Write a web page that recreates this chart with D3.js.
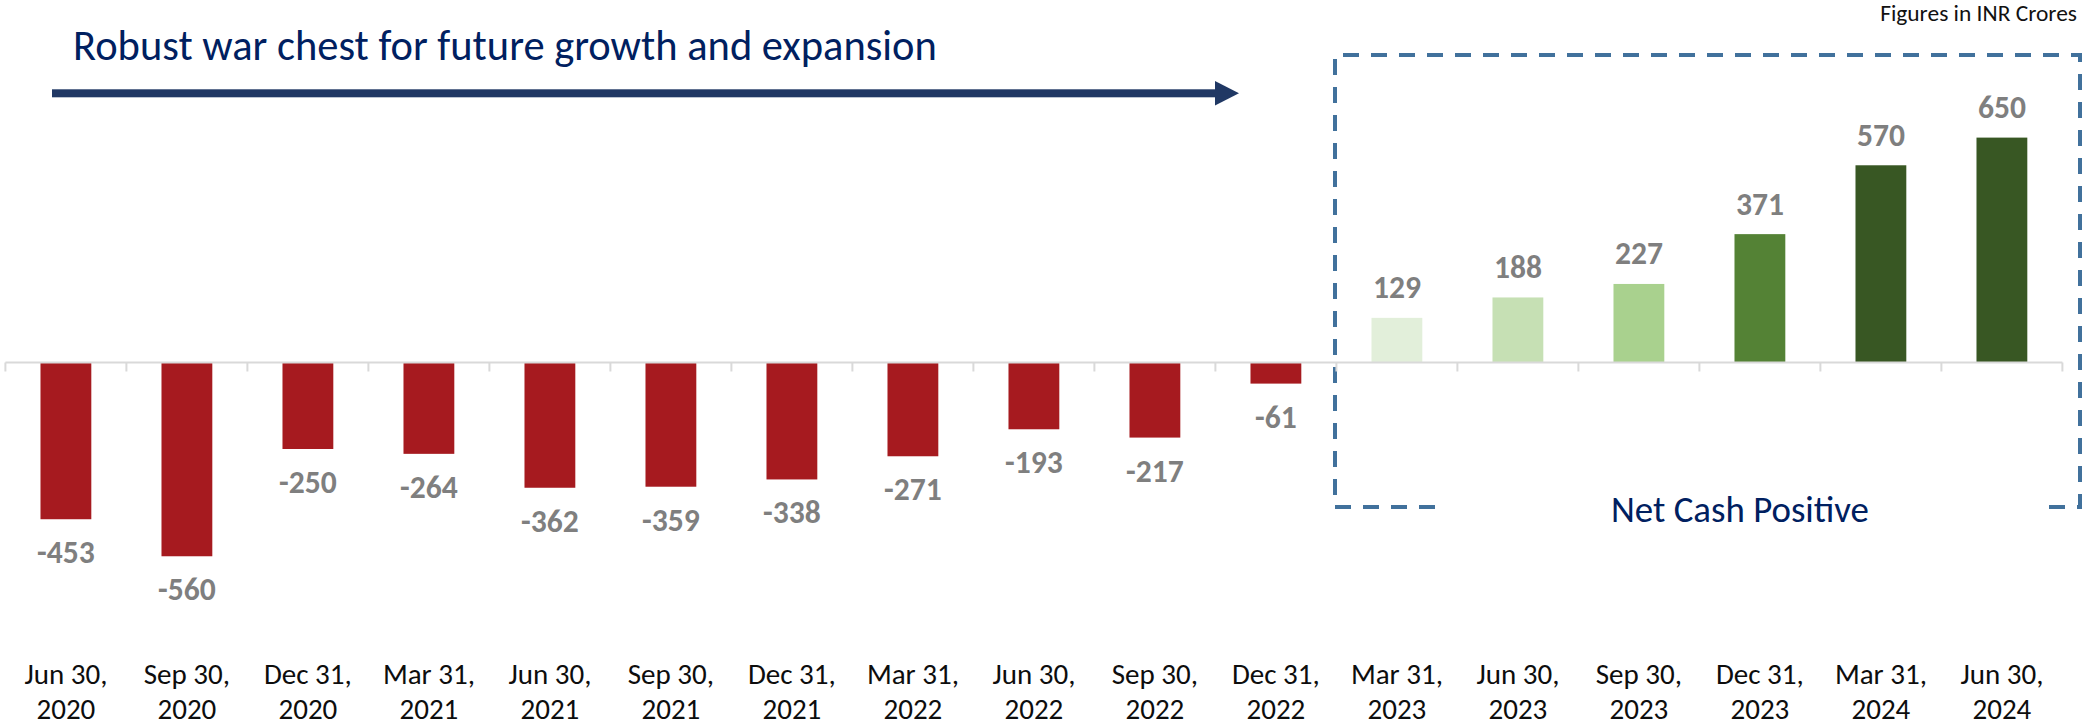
<!DOCTYPE html>
<html>
<head>
<meta charset="utf-8">
<script src="https://cdn.jsdelivr.net/npm/d3@7"></script>
<style>
  html, body { margin: 0; padding: 0; background: #ffffff; }
  svg { display: block; }
</style>
</head>
<body>
<svg id="chart" width="2084" height="728"></svg>
<script>
// ---------------- DATA ----------------
const categories = [
  "Jun 30, 2020", "Sep 30, 2020", "Dec 31, 2020", "Mar 31, 2021",
  "Jun 30, 2021", "Sep 30, 2021", "Dec 31, 2021", "Mar 31, 2022",
  "Jun 30, 2022", "Sep 30, 2022", "Dec 31, 2022", "Mar 31, 2023",
  "Jun 30, 2023", "Sep 30, 2023", "Dec 31, 2023", "Mar 31, 2024",
  "Jun 30, 2024"
];
const netCash = [-453, -560, -250, -264, -362, -359, -338, -271, -193, -217, -61,
                 129, 188, 227, 371, 570, 650];
const titleText = "Robust war chest for future growth and expansion";
const unitNote = "Figures in INR Crores";
const boxLabel = "Net Cash Positive";
const firstPositiveIndex = 11;

// ---------------- STYLE ----------------
const negColor = "#a61a1f";
const posColors = ["#e2efda", "#c6e0b4", "#a9d18e", "#548235", "#385723", "#385723"];
const FONT = "Carlito, Lato, 'Open Sans', sans-serif";

const W = 2084, H = 728;
const svg = d3.select("#chart");

function fitSize(text, weight, target) {
  const t = svg.append("text").attr("font-family", FONT).attr("font-weight", weight)
    .attr("font-size", 100).text(text);
  const w = t.node().getComputedTextLength();
  t.remove();
  return 100 * target / w;
}

function draw() {
  // scales
  const x = d3.scaleBand().domain(categories).range([5.4, 2062.4])
    .paddingInner(0.58).paddingOuter(0.29);
  const zeroY = 362.5, ppu = 0.346;
  const y = d3.scaleLinear().domain([-600, 700]).range([zeroY + 600 * ppu, zeroY - 700 * ppu]);
  const step = x.step();
  const x0 = x.range()[0];

  // title
  const titleSize = fitSize(titleText, 400, 864);
  svg.append("text").attr("x", 73).attr("y", 60)
    .attr("font-family", FONT).attr("font-size", titleSize).attr("fill", "#002060")
    .text(titleText);

  // arrow
  svg.append("rect").attr("x", 52).attr("y", 89.3).attr("width", 1215 - 52).attr("height", 8)
    .attr("fill", "#203864");
  svg.append("path").attr("d", "M1215,81 L1239,93.3 L1215,105.5 Z").attr("fill", "#203864");

  // unit note
  const noteSize = fitSize(unitNote, 400, 197);
  svg.append("text").attr("x", 2077).attr("y", 20.7).attr("text-anchor", "end")
    .attr("font-family", FONT).attr("font-size", noteSize).attr("fill", "#111111")
    .text(unitNote);

  // dashed box
  const boxL = x0 + step * firstPositiveIndex - 1.4;
  const boxR = 2080, boxT = 55, boxB = 507;
  const ncpSize = fitSize(boxLabel, 400, 258);
  svg.append("path")
    .attr("d", `M1435,${boxB} H${boxL} V${boxT} H${boxR} V${boxB} H2039`)
    .attr("fill", "none").attr("stroke", "#41719c").attr("stroke-width", 4)
    .attr("stroke-dasharray", "16,12");
  svg.append("text").attr("x", 1740).attr("y", 521.7).attr("text-anchor", "middle")
    .attr("font-family", FONT).attr("font-size", ncpSize).attr("fill", "#002060")
    .text(boxLabel);

  // bars
  const data = categories.map((c, i) => ({ c, v: netCash[i], i }));
  svg.append("g").selectAll("rect").data(data).join("rect")
    .attr("x", d => x(d.c))
    .attr("width", x.bandwidth())
    .attr("y", d => d.v >= 0 ? y(d.v) : y(0))
    .attr("height", d => Math.abs(y(d.v) - y(0)))
    .attr("fill", d => d.v < 0 ? negColor : posColors[d.i - firstPositiveIndex]);

  // axis line and ticks
  const ax = svg.append("g").attr("stroke", "#d9d9d9").attr("stroke-width", 2);
  ax.append("line").attr("x1", x0).attr("x2", x.range()[1]).attr("y1", y(0)).attr("y2", y(0));
  ax.selectAll("line.tk").data(d3.range(categories.length + 1)).join("line")
    .attr("class", "tk")
    .attr("x1", i => x0 + i * step).attr("x2", i => x0 + i * step)
    .attr("y1", y(0)).attr("y2", y(0) + 9);

  // value labels
  const valSize = fitSize("129", 700, 48);
  svg.append("g").selectAll("text").data(data).join("text")
    .attr("x", d => x(d.c) + x.bandwidth() / 2)
    .attr("y", d => d.v >= 0 ? y(d.v) - 19.5 : y(d.v) + 44)
    .attr("text-anchor", "middle")
    .attr("font-family", FONT).attr("font-weight", 700).attr("font-size", valSize)
    .attr("fill", "#7f7f7f")
    .text(d => String(d.v));

  // category labels (two lines)
  const catSize = fitSize("Jun 30,", 400, 83);
  const cat = svg.append("g").selectAll("text").data(categories).join("text")
    .attr("text-anchor", "middle")
    .attr("font-family", FONT).attr("font-size", catSize).attr("fill", "#0d0d0d");
  cat.append("tspan").attr("x", d => x(d) + x.bandwidth() / 2).attr("y", 684)
    .text(d => d.split(", ")[0] + ",");
  cat.append("tspan").attr("x", d => x(d) + x.bandwidth() / 2).attr("y", 719)
    .text(d => d.split(", ")[1]);
}

if (document.fonts && document.fonts.ready) {
  document.fonts.ready.then(draw);
} else {
  draw();
}
</script>
</body>
</html>
